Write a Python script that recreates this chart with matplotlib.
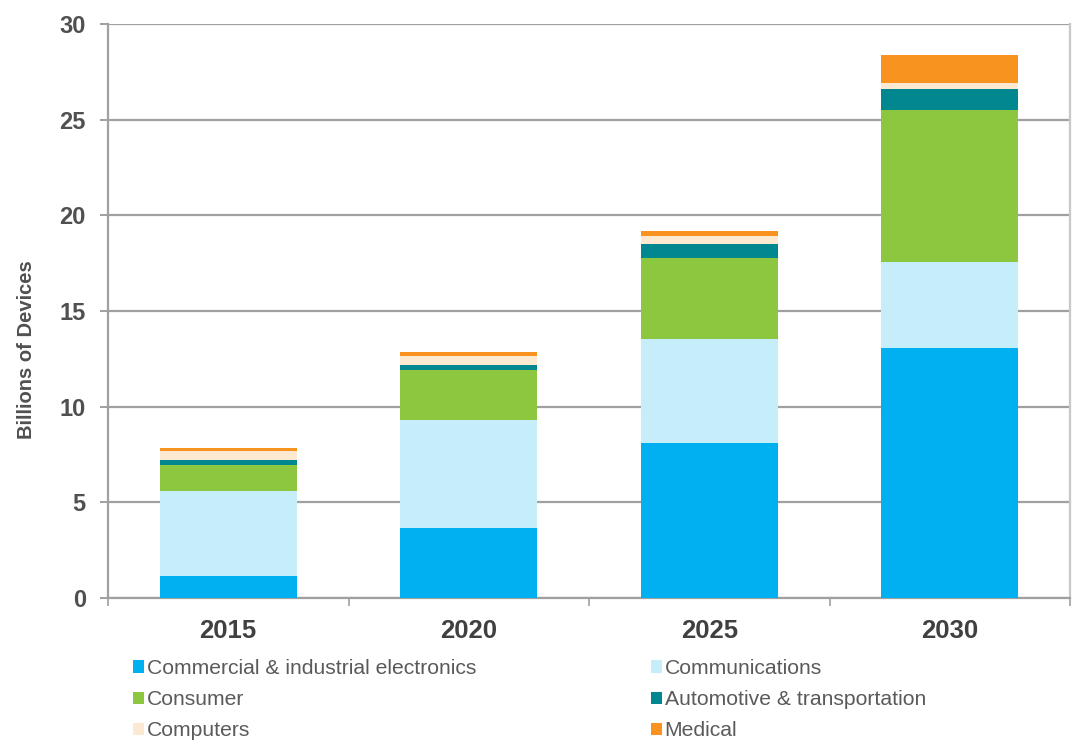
import matplotlib
matplotlib.use("Agg")
import matplotlib.pyplot as plt
from matplotlib.patches import Patch
import numpy as np

plt.rcParams['font.family'] = ['Liberation Sans', 'DejaVu Sans']

years = ['2015', '2020', '2025', '2030']
series_names = ['Commercial & industrial electronics', 'Communications', 'Consumer',
                'Automotive & transportation', 'Computers', 'Medical']
commercial = [1.15, 3.65, 8.10, 13.05]
communications = [4.45, 5.65, 5.45, 4.50]
consumer = [1.35, 2.60, 4.20, 7.95]
automotive = [0.25, 0.30, 0.75, 1.10]
computers = [0.50, 0.45, 0.40, 0.30]
medical = [0.15, 0.20, 0.30, 1.50]
y_ticks = [0, 5, 10, 15, 20, 25, 30]

series_values = [commercial, communications, consumer, automotive, computers, medical]
colors = ['#00B0F0', '#C6EEFA', '#8DC63F', '#00878F', '#FBE9D2', '#F7931E']

W, H = 1076, 743
fig = plt.figure(figsize=(W / 100, H / 100), dpi=100)
ax = fig.add_axes([108 / W, 1 - 598 / H, (1070 - 108) / W, (598 - 24) / H])

x = np.arange(len(years))
bottom = np.zeros(len(years))
for vals, col in zip(series_values, colors):
    ax.bar(x, vals, width=0.57, bottom=bottom, color=col, linewidth=0, zorder=3)
    bottom += np.array(vals)

grid_col = '#A0A0A0'
ax.set_xlim(-0.5, 3.5)
ax.set_ylim(0, 30)
ax.set_yticks(y_ticks)
ax.set_yticklabels([str(t) for t in y_ticks])
ax.yaxis.grid(True, color=grid_col, linewidth=1.6, zorder=0)
ax.set_axisbelow(True)

for side in ['left', 'bottom', 'right', 'top']:
    ax.spines[side].set_color(grid_col)
    ax.spines[side].set_linewidth(1.6)
ax.spines['right'].set_color('#C8C8C8')
ax.spines['top'].set_visible(False)

ax.set_xticks(x)
ax.set_xticklabels(years)
ax.set_xticks(np.arange(-0.5, 4.0, 1.0), minor=True)
ax.tick_params(axis='x', which='major', length=0, pad=15, labelsize=18.5,
               labelcolor='#404040')
ax.tick_params(axis='x', which='minor', length=6, width=1.2, color=grid_col, direction='out')
ax.tick_params(axis='y', length=6, width=1.4, color=grid_col, pad=10, labelsize=17,
               labelcolor='#505050')
for lab in ax.get_xticklabels() + ax.get_yticklabels():
    lab.set_fontweight('bold')

fig.text(27 / W, 1 - 350 / H, 'Billions of Devices', rotation=90, fontsize=14.5,
         fontweight='bold', color='#505050', ha='center', va='center')

handles = [Patch(facecolor=c, edgecolor='none') for c in colors]
left_idx = [0, 2, 4]
right_idx = [1, 3, 5]
legend_kw = dict(frameon=False, fontsize=15.2, handlelength=0.5, handleheight=0.5,
                 handletextpad=0.15, labelspacing=0.58, labelcolor='#5A5A5A',
                 borderaxespad=0, borderpad=0)
fig.legend([handles[i] for i in left_idx], [series_names[i] for i in left_idx],
           loc='upper left', bbox_to_anchor=(133 / W, 1 - 659 / H), **legend_kw)
fig.legend([handles[i] for i in right_idx], [series_names[i] for i in right_idx],
           loc='upper left', bbox_to_anchor=(651 / W, 1 - 659 / H), **legend_kw)

fig.savefig('out.png', dpi=100, facecolor='white')
